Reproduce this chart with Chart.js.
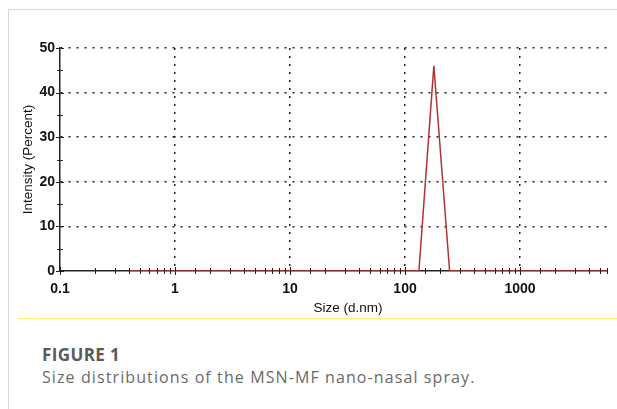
<!DOCTYPE html>
<html>
<head>
<meta charset="utf-8">
<script src="https://cdn.jsdelivr.net/npm/chart.js@4"></script>
<style>
  body { margin: 0; background: #fff; width: 617px; height: 409px; position: relative; overflow: hidden; }
  .card-left { position: absolute; left: 8px; top: 9px; width: 1px; height: 400px; background: #d8d8d8; }
  .card-top { position: absolute; left: 8px; top: 9px; width: 609px; height: 1px; background: #d8d8d8; }
  .chart-box { position: absolute; left: 0; top: 0; width: 617px; height: 318px; }
  .xtitle { position: absolute; left: 248px; width: 200px; top: 300px; text-align: center; font-family: "Liberation Sans", Arial, sans-serif; font-size: 13.5px; color: #111; }
  .rule { position: absolute; left: 18px; top: 318px; width: 599px; height: 1px; background: #fff176; }
  .fig { position: absolute; left: 42px; top: 343px; font-family: "Open Sans", sans-serif; font-weight: bold; font-size: 17px; letter-spacing: 0.4px; color: #5a5a5a; }
  .cap { position: absolute; left: 42px; top: 366px; font-family: "Open Sans", sans-serif; font-size: 16px; letter-spacing: 1.1px; color: #6a6a6a; }
</style>
</head>
<body>
<div class="card-left"></div>
<div class="card-top"></div>
<div class="chart-box"><canvas id="sizeChart"></canvas></div>
<div class="xtitle">Size (d.nm)</div>
<div class="rule"></div>
<div class="fig">FIGURE 1</div>
<div class="cap">Size distributions of the MSN-MF nano-nasal spray.</div>
<script>
// size distribution
const sizes = [0.4, 132, 178, 244, 5700];
const intensity = [0, 0, 46, 0, 0];
const yTicks = [0, 10, 20, 30, 40, 50];
const xDecades = [0.1, 1, 10, 100, 1000];

const isDecade = v => Math.abs(Math.log10(v) - Math.round(Math.log10(v))) < 1e-6;

// small tick marks crossing both axes
const crossTicks = {
  id: 'crossTicks',
  afterDraw(chart) {
    const { ctx, scales: { x, y } } = chart;
    ctx.save();
    ctx.strokeStyle = '#222';
    ctx.lineWidth = 1;
    x.ticks.forEach(t => {
      const px = Math.round(x.getPixelForValue(t.value)) + 0.5;
      const len = isDecade(t.value) ? 4 : 3;
      ctx.beginPath();
      ctx.moveTo(px, y.bottom - len);
      ctx.lineTo(px, y.bottom + len);
      ctx.stroke();
    });
    y.ticks.forEach(t => {
      const py = Math.round(y.getPixelForValue(t.value)) + 0.5;
      const len = t.value % 10 === 0 ? 4 : 3;
      ctx.beginPath();
      ctx.moveTo(x.left - len, py);
      ctx.lineTo(x.left + len, py);
      ctx.stroke();
    });
    ctx.restore();
  }
};

const ctx = document.getElementById('sizeChart').getContext('2d');

new Chart(ctx, {
  type: 'line',
  data: {
    datasets: [
      {
        label: 'Intensity',
        data: sizes.map((s, i) => ({ x: s, y: intensity[i] })),
        borderColor: '#b03434',
        borderWidth: 1.5,
        pointRadius: 0,
        tension: 0,
      },
    ],
  },
  options: {
    responsive: true,
    maintainAspectRatio: false,
    animation: false,
    layout: { padding: { left: 16, right: 3, top: 48, bottom: 0 } },
    plugins: {
      legend: { display: false },
      tooltip: { enabled: false },
    },
    scales: {
      x: {
        type: 'logarithmic',
        min: 0.1,
        max: 5700,
        afterFit: s => { s.height = 47; },
        border: { display: true, color: '#222', width: 1.5, dash: [2, 6] },
        grid: {
          drawTicks: false,
          lineWidth: 1.5,
          color: c => (c.tick && isDecade(c.tick.value) && c.tick.value > 0.1 ? '#222' : 'rgba(0,0,0,0)'),
        },
        ticks: {
          autoSkip: false,
          maxRotation: 0,
          padding: 10,
          color: '#111',
          font: { family: 'Liberation Sans', size: 14, weight: 'bold' },
          callback: v => (xDecades.includes(v) ? String(v) : ''),
        },
      },
      y: {
        min: 0,
        max: 50,
        afterFit: s => { s.width = 44; },
        border: { display: true, color: '#222', width: 1.5, dash: [2, 6] },
        grid: {
          drawTicks: false,
          lineWidth: 1.5,
          color: c => (c.tick && c.tick.value > 0 && c.tick.value % 10 === 0 ? '#222' : 'rgba(0,0,0,0)'),
        },
        ticks: {
          stepSize: 5,
          padding: 5,
          color: '#111',
          font: { family: 'Liberation Sans', size: 14, weight: 'bold' },
          callback: v => (yTicks.includes(v) ? String(v) : ''),
        },
        title: {
          display: true,
          text: 'Intensity (Percent)',
          color: '#111',
          font: { family: 'Liberation Sans', size: 13.5 },
          padding: { bottom: 0 },
        },
      },
    },
  },
  plugins: [crossTicks],
});
</script>
</body>
</html>
